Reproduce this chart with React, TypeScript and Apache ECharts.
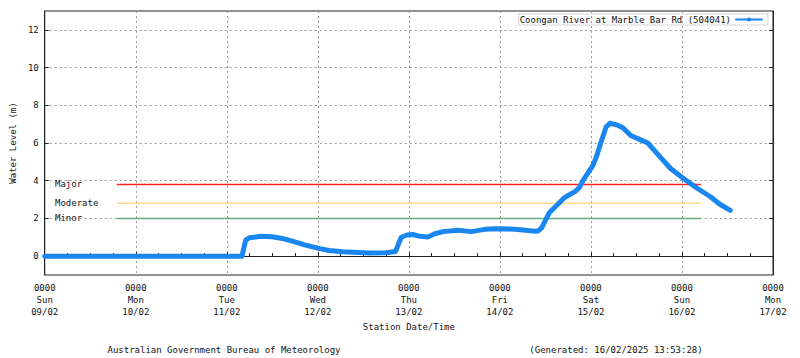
import React, { useEffect, useRef } from "react";
import * as echarts from "echarts";

const seriesName = "Coongan River at Marble Bar Rd (504041)";
const startTime = "2025-02-09T00:00:00";
const dayNames = ["Sun", "Mon", "Tue", "Wed", "Thu", "Fri", "Sat", "Sun", "Mon"];
const dayDates = ["09/02", "10/02", "11/02", "12/02", "13/02", "14/02", "15/02", "16/02", "17/02"];
const yTicks = [0, 2, 4, 6, 8, 10, 12];

const times = [
  "2025-02-09T00:00", "2025-02-11T04:00", "2025-02-11T04:30", "2025-02-11T05:00", "2025-02-11T06:00",
  "2025-02-11T09:00", "2025-02-11T12:00", "2025-02-11T15:00", "2025-02-11T17:30", "2025-02-11T20:30",
  "2025-02-12T00:30", "2025-02-12T03:00", "2025-02-12T06:30", "2025-02-12T13:30", "2025-02-12T18:00",
  "2025-02-12T20:30", "2025-02-12T21:10", "2025-02-12T22:00", "2025-02-12T23:30", "2025-02-13T01:00",
  "2025-02-13T03:00", "2025-02-13T05:00", "2025-02-13T07:00", "2025-02-13T09:00", "2025-02-13T13:00",
  "2025-02-13T16:30", "2025-02-13T20:00", "2025-02-13T23:00", "2025-02-14T04:00", "2025-02-14T08:00",
  "2025-02-14T10:00", "2025-02-14T11:00", "2025-02-14T12:00", "2025-02-14T13:00", "2025-02-14T15:00",
  "2025-02-14T17:00", "2025-02-14T20:00", "2025-02-14T21:00", "2025-02-14T22:00", "2025-02-15T00:30",
  "2025-02-15T01:30", "2025-02-15T02:30", "2025-02-15T04:00", "2025-02-15T05:00", "2025-02-15T07:00",
  "2025-02-15T08:30", "2025-02-15T10:30", "2025-02-15T12:30", "2025-02-15T15:00", "2025-02-15T18:30",
  "2025-02-15T21:00", "2025-02-16T00:30", "2025-02-16T04:00", "2025-02-16T07:30", "2025-02-16T10:00",
  "2025-02-16T12:45",
];
const levels = [
  0, 0, 0.45, 0.85, 0.98,
  1.05, 1.03, 0.92, 0.78, 0.6,
  0.4, 0.3, 0.23, 0.17, 0.18,
  0.25, 0.6, 1.0, 1.12, 1.15,
  1.05, 1.02, 1.2, 1.3, 1.37,
  1.3, 1.42, 1.45, 1.43, 1.35,
  1.32, 1.5, 1.9, 2.3, 2.7,
  3.1, 3.45, 3.65, 4.05, 4.8,
  5.3, 5.95, 6.85, 7.05, 6.95,
  6.8, 6.4, 6.22, 6.0, 5.2,
  4.65, 4.1, 3.6, 3.15, 2.75,
  2.43,
];

const floodNames = ["Major", "Moderate", "Minor"];
const floodLevels = [3.8, 2.8, 2.0];
const floodStart = "2025-02-09T19:00";
const floodEnd = "2025-02-16T05:00";
const floodColors = ["#ff2020", "#ffd98a", "#66aa84"];

const footerLeft = "Australian Government Bureau of Meteorology";
const footerRight = "(Generated: 16/02/2025 13:53:28)";

const FONT = "DejaVu Sans Mono";
const t0 = Date.parse(startTime);
const toHours = (s: string) => (Date.parse(s + (s.length === 16 ? ":00" : "")) - t0) / 3600000;

export default function App() {
  const ref = useRef<HTMLDivElement>(null);
  useEffect(() => {
    if (!ref.current) return;
    const chart = echarts.init(ref.current, null, { renderer: "svg" });
    const gridLine = { show: true, lineStyle: { color: "#999", type: [2, 3] as any, width: 1 } };
    const mainData = levels.map((v, i) => [toHours(times[i]), v]);
    const floodSeries = floodNames.map((n, i) => ({
      name: n,
      type: "line",
      silent: true,
      symbol: "none",
      data: [
        [toHours(floodStart), floodLevels[i]],
        [toHours(floodEnd), floodLevels[i]],
      ],
      lineStyle: { color: floodColors[i], width: 1.5 },
      itemStyle: { color: floodColors[i] },
      z: 2,
    }));
    chart.setOption({
      animation: false,
      grid: { left: 41, right: 27, top: 11, bottom: 83, show: true, borderColor: "#222", borderWidth: 1 },
      legend: {
        data: [seriesName],
        right: 32,
        top: 14,
        align: "right",
        itemWidth: 26,
        itemHeight: 5,
        padding: [1, 5, 1, 1],
        borderColor: "#aaa",
        borderWidth: 1,
        borderType: "dotted",
        lineStyle: { width: 2 },
        textStyle: { fontFamily: FONT, fontSize: 9, color: "#111" },
      },
      xAxis: {
        type: "value",
        min: 0,
        max: 192,
        interval: 24,
        axisLine: { show: true, lineStyle: { color: "#222" } },
        axisTick: { show: true, inside: true, length: 4, lineStyle: { color: "#222" } },
        minorTick: { show: true, splitNumber: 4, length: 3, lineStyle: { color: "#222" } },
        splitLine: gridLine,
        axisLabel: {
          margin: 7,
          fontFamily: FONT,
          fontSize: 9,
          color: "#111",
          lineHeight: 12,
          showMinLabel: true,
          showMaxLabel: true,
          formatter: (v: number) => {
            const i = Math.round(v / 24);
            return `0000\n${dayNames[i]}\n${dayDates[i]}`;
          },
        },
        name: "Station Date/Time",
        nameLocation: "middle",
        nameGap: 47,
        nameTextStyle: { fontFamily: FONT, fontSize: 9, color: "#111" },
      },
      yAxis: [
        {
          type: "value",
          min: -1,
          max: 13,
          axisLine: { show: true, lineStyle: { color: "#222" } },
          axisTick: { show: true, inside: true, length: 4, customValues: yTicks, lineStyle: { color: "#222" } },
          splitLine: gridLine,
          axisLabel: { customValues: yTicks, margin: 6, fontFamily: FONT, fontSize: 9, color: "#111" },
          name: "Water Level (m)",
          nameLocation: "middle",
          nameGap: 27,
          nameTextStyle: { fontFamily: FONT, fontSize: 9, color: "#111" },
        },
        {
          type: "value",
          position: "right",
          min: -1,
          max: 13,
          axisLine: { show: true, lineStyle: { color: "#222" } },
          axisTick: { show: true, inside: true, length: 4, customValues: yTicks, lineStyle: { color: "#222" } },
          splitLine: { show: false },
          axisLabel: { show: false },
        },
      ],
      series: [
        ...floodSeries,
        {
          name: seriesName,
          type: "line",
          data: mainData,
          symbol: "circle",
          symbolSize: 4,
          showSymbol: false,
          lineStyle: { color: "#1a86f0", width: 5, cap: "round", join: "round" },
          itemStyle: { color: "#1a86f0" },
          z: 3,
        },
      ],
    });
    const labels = floodNames.map((n, i) => ({
      id: "flood-" + i,
      type: "text",
      x: 55,
      y: chart.convertToPixel({ yAxisIndex: 0 }, floodLevels[i]) as number,
      style: { text: n, font: `9px "${FONT}"`, fill: "#111", verticalAlign: "middle", align: "left" },
    }));
    chart.setOption({
      graphic: [
        ...labels,
        {
          id: "footer-left",
          type: "text",
          x: 224,
          y: 350,
          style: { text: footerLeft, font: `9px "${FONT}"`, fill: "#111", align: "center", verticalAlign: "middle" },
        },
        {
          id: "footer-right",
          type: "text",
          x: 616,
          y: 350,
          style: { text: footerRight, font: `9px "${FONT}"`, fill: "#111", align: "center", verticalAlign: "middle" },
        },
      ],
    });
    return () => chart.dispose();
  }, []);
  return (
    <div
      ref={ref}
      style={{ position: "fixed", left: 0, top: 0, width: 800, height: 358, background: "#fff" }}
    />
  );
}
